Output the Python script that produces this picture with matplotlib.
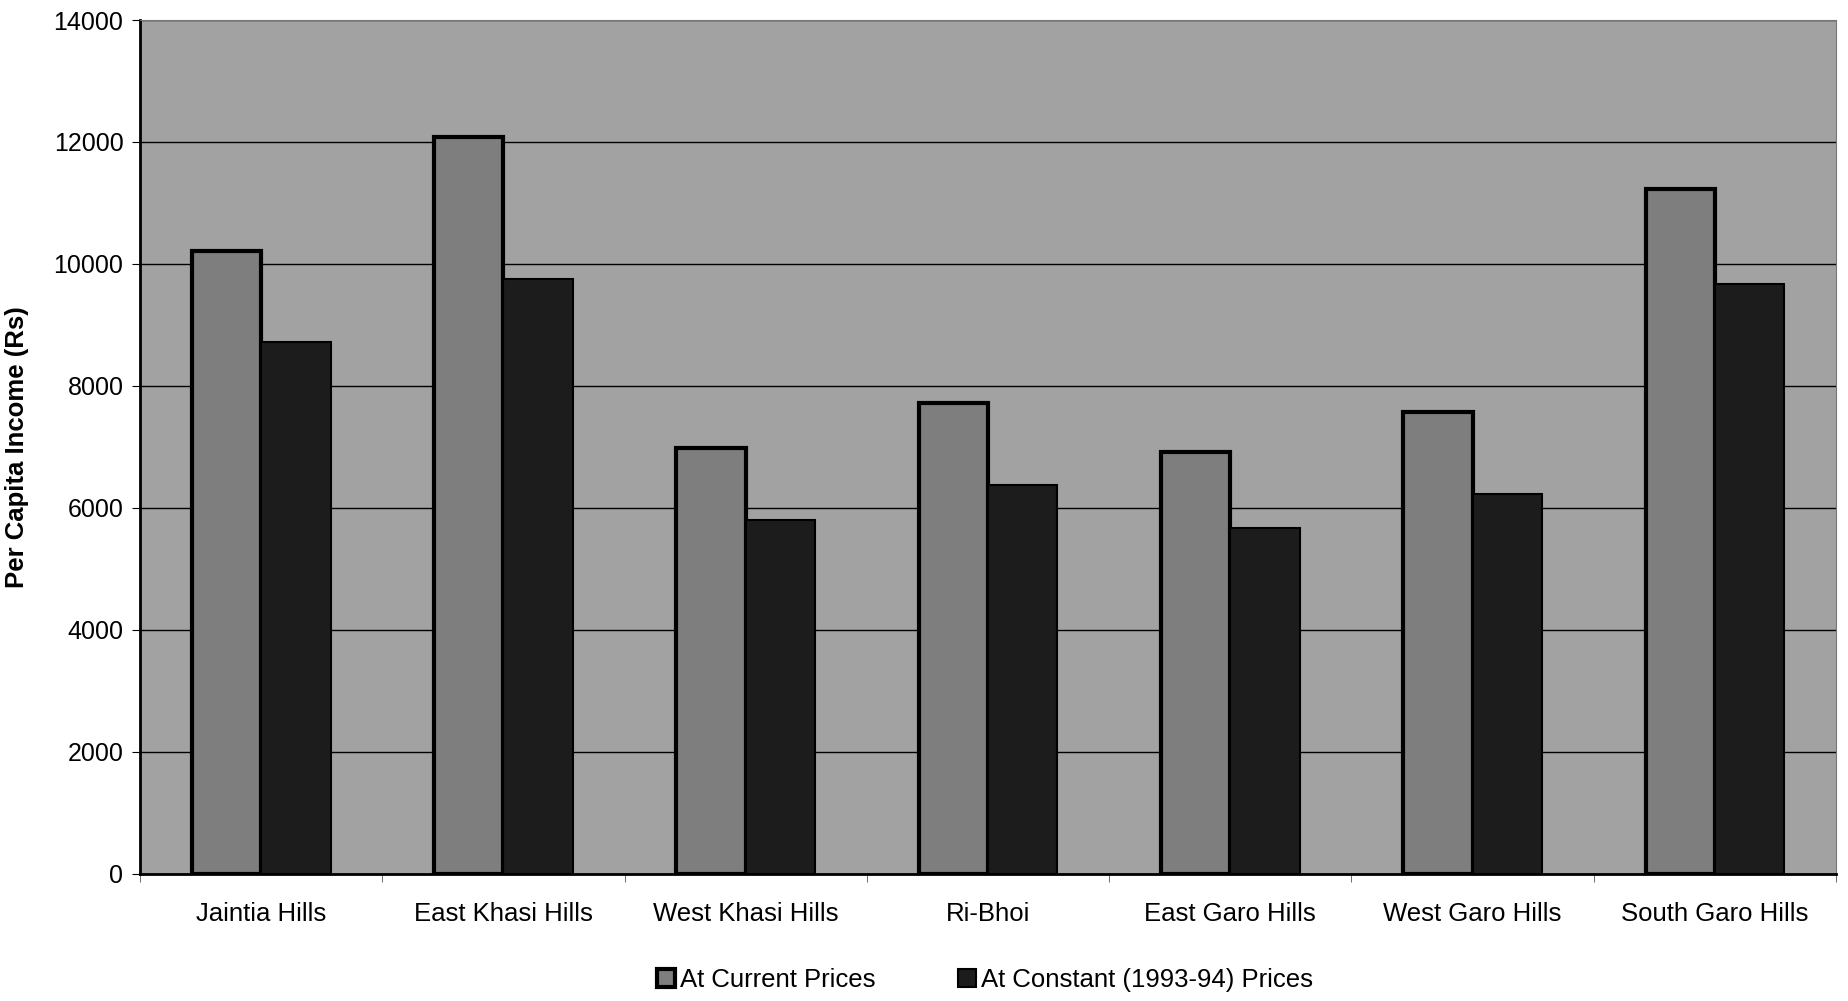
import numpy as np
import matplotlib
matplotlib.use("Agg")
import matplotlib.pyplot as plt

plt.rcParams['font.family'] = ['Liberation Sans', 'DejaVu Sans']

districts = ["Jaintia Hills", "East Khasi Hills", "West Khasi Hills", "Ri-Bhoi",
             "East Garo Hills", "West Garo Hills", "South Garo Hills"]
current_prices = [10210, 12090, 6980, 7720, 6920, 7580, 11230]
constant_prices = [8720, 9760, 5800, 6380, 5670, 6230, 9670]
series_names = ["At Current Prices", "At Constant (1993-94) Prices"]
yticks = [0, 2000, 4000, 6000, 8000, 10000, 12000, 14000]

fig = plt.figure(figsize=(18.48, 10.01), dpi=100)
ax = fig.add_axes([0.0758, 0.127, 0.9177, 0.853])
ax.set_facecolor("#a2a2a2")

x = np.arange(len(districts))
w = 0.286
ax.bar(x - w / 2, current_prices, width=w, color="#7e7e7e", edgecolor="black",
       linewidth=3, label=series_names[0], zorder=3)
ax.bar(x + w / 2, constant_prices, width=w, color="#1c1c1c", edgecolor="black",
       linewidth=1.5, label=series_names[1], zorder=3)

ax.set_xlim(-0.5, len(districts) - 0.5)
ax.set_ylim(0, 14000)
ax.set_yticks(yticks)
ax.set_yticklabels([str(v) for v in yticks], fontsize=18)
ax.yaxis.grid(True, color="black", linewidth=1.0, zorder=1)
ax.set_axisbelow(True)

ax.set_xticks(x)
ax.set_xticklabels(districts, fontsize=18.5)
ax.set_xticks(np.arange(len(districts) + 1) - 0.5, minor=True)
ax.tick_params(axis="x", which="major", length=0, pad=20)
ax.tick_params(axis="x", which="minor", length=6, color="#555555")
ax.tick_params(axis="y", length=6, pad=6)

for side in ["top", "right"]:
    ax.spines[side].set_color("#777777")
ax.spines["left"].set_linewidth(2)
ax.spines["bottom"].set_linewidth(2)

ax.set_ylabel("Per Capita Income (Rs)", fontsize=18.5, fontweight="bold", labelpad=18)

fig.legend(loc="center", bbox_to_anchor=(0.533, 0.021), ncol=2, frameon=False,
           fontsize=18.5, handlelength=0.7, handleheight=0.7, handletextpad=0.2,
           columnspacing=3.2)

fig.savefig("out.png", dpi=100)
